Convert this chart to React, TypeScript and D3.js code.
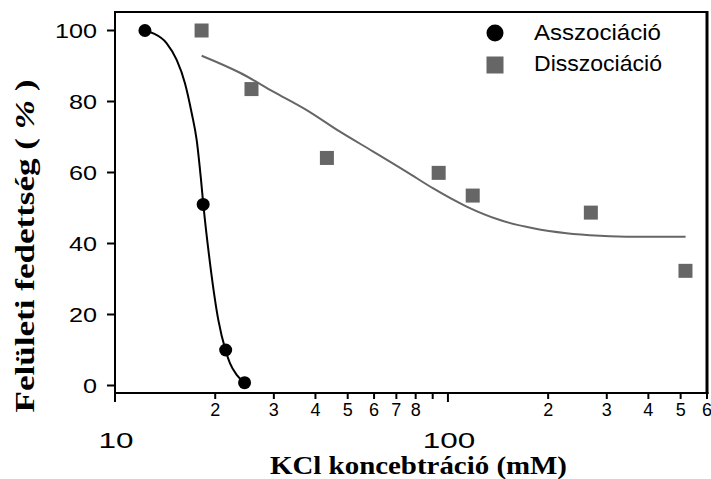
import React from "react";
import * as d3 from "d3";

// Data
const assocX = [12.3, 18.4, 21.5, 24.5];
const assocY = [100, 51, 10, 0.8];

const dissocX = [18.2, 25.7, 43.3, 93.8, 118.7, 268.7, 517];
const dissocY = [100, 83.5, 64.1, 59.9, 53.5, 48.7, 32.3];

// fitted curves
const assocFitX = [12.31, 13.03, 14.3, 15.32, 16.23, 17.0, 17.59, 18.13, 18.42, 19.29, 20.43, 21.5, 22.14, 23.2, 24.45];
const assocFitY = [100, 99.2, 96.4, 91.7, 85.1, 76.7, 69.2, 57.9, 51.0, 34.5, 18.5, 9.8, 6.3, 3.0, 0.9];

const dissocFitX = [18.21, 23.73, 29.88, 37.65, 47.39, 59.67, 75.16, 90.35, 113.8, 143.3, 180.4, 227.1, 286.1, 360.2, 517.4];
const dissocFitY = [92.9, 88.1, 82.8, 77.6, 71.5, 65.9, 60.2, 55.5, 50.4, 46.6, 44.3, 42.9, 42.2, 41.9, 41.9];

const yTicks = [0, 20, 40, 60, 80, 100];
const xMajorTicks = [10, 100];
const xMinorTicks = [20, 30, 40, 50, 60, 70, 80, 90, 200, 300, 400, 500, 600];
const xMinorLabels = [
  { v: 20, t: "2" }, { v: 30, t: "3" }, { v: 40, t: "4" }, { v: 50, t: "5" },
  { v: 60, t: "6" }, { v: 70, t: "7" }, { v: 80, t: "8" },
  { v: 200, t: "2" }, { v: 300, t: "3" }, { v: 400, t: "4" }, { v: 500, t: "5" }, { v: 600, t: "6" },
];

const legendNames = ["Asszociáció", "Disszociáció"];

const W = 711;
const H = 479;
const L = 115, R = 707, T = 12, B = 393;
const GRAY = "#666666";
const SANS = "'Liberation Sans', Arial, sans-serif";
const SERIF = "'Liberation Serif', 'Times New Roman', serif";

export default function App() {
  const x = d3.scaleLog().domain([10, 600]).range([L, R]);
  const y = d3.scaleLinear().domain([0, 100]).range([385.5, 30.5]);

  const line = d3
    .line<[number, number]>()
    .x((d) => x(d[0]))
    .y((d) => y(d[1]))
    .curve(d3.curveMonotoneX);

  const assocFit = line(assocFitX.map((v, i) => [v, assocFitY[i]]) as [number, number][]) || "";
  const dissocFit = line(dissocFitX.map((v, i) => [v, dissocFitY[i]]) as [number, number][]) || "";

  return (
    <svg
      width={W}
      height={H}
      style={{ position: "absolute", left: 0, top: 0, background: "#fff" }}
      xmlns="http://www.w3.org/2000/svg"
    >
      <rect x={0} y={0} width={W} height={H} fill="#fff" />

      {/* curves */}
      <path d={dissocFit} fill="none" stroke={GRAY} strokeWidth={2} />
      <path d={assocFit} fill="none" stroke="#000" strokeWidth={2} />

      {/* points */}
      {dissocX.map((v, i) => (
        <rect key={"s" + i} x={x(v) - 7} y={y(dissocY[i]) - 7} width={14} height={14} fill={GRAY} />
      ))}
      {assocX.map((v, i) => (
        <circle key={"c" + i} cx={x(v)} cy={y(assocY[i])} r={6.5} fill="#000" />
      ))}

      {/* frame */}
      <line x1={L} x2={R} y1={T} y2={T} stroke="#000" strokeWidth={2} />
      <line x1={R} x2={R} y1={T - 1} y2={B + 1} stroke="#000" strokeWidth={3} />
      <line x1={L} x2={R + 1.5} y1={B} y2={B} stroke="#000" strokeWidth={2} />
      <line x1={L} x2={L} y1={T - 1} y2={B + 9} stroke="#000" strokeWidth={2} />

      {/* y ticks */}
      {yTicks.map((t) => (
        <g key={"yt" + t}>
          <line x1={L - 8} x2={L} y1={y(t)} y2={y(t)} stroke="#000" strokeWidth={2} />
          <text
            x={97}
            y={y(t) + 7}
            textAnchor="end"
            fontFamily={SANS}
            fontSize={20}
            textLength={String(t).length * 14}
            lengthAdjust="spacingAndGlyphs"
          >
            {t}
          </text>
        </g>
      ))}

      {/* x ticks */}
      {xMajorTicks.map((t) => (
        <g key={"xM" + t}>
          <line x1={x(t)} x2={x(t)} y1={B} y2={B + 9} stroke="#000" strokeWidth={2} />
          <text
            x={x(t) + 1}
            y={448}
            textAnchor="middle"
            fontFamily={SANS}
            fontSize={22}
            textLength={String(t).length * 17.5}
            lengthAdjust="spacingAndGlyphs"
          >
            {t}
          </text>
        </g>
      ))}
      {xMinorTicks.map((t) => (
        <line key={"xm" + t} x1={x(t)} x2={x(t)} y1={B} y2={B + 6} stroke="#000" strokeWidth={2} />
      ))}
      {xMinorLabels.map((d, i) => (
        <text
          key={"xl" + i}
          x={x(d.v)}
          y={416}
          textAnchor="middle"
          fontFamily={SANS}
          fontSize={18}
        >
          {d.t}
        </text>
      ))}

      {/* legend */}
      <circle cx={495} cy={33} r={8.5} fill="#000" />
      <rect x={486.5} y={56.5} width={17} height={17} fill={GRAY} />
      <text x={534} y={39.5} fontFamily={SANS} fontSize={22} textLength={127} lengthAdjust="spacingAndGlyphs">
        {legendNames[0]}
      </text>
      <text x={534} y={71} fontFamily={SANS} fontSize={22} textLength={128} lengthAdjust="spacingAndGlyphs">
        {legendNames[1]}
      </text>

      {/* axis titles */}
      <text
        x={418.5}
        y={474}
        textAnchor="middle"
        fontFamily={SERIF}
        fontWeight="bold"
        fontSize={26}
        textLength={297}
        lengthAdjust="spacingAndGlyphs"
      >
        KCl koncebtráció (mM)
      </text>
      <text
        transform={`translate(34, ${246}) rotate(-90)`}
        x={0}
        y={0}
        textAnchor="middle"
        fontFamily={SERIF}
        fontWeight="bold"
        fontSize={27}
        textLength={333}
        lengthAdjust="spacingAndGlyphs"
      >
        Felületi fedettség ( <tspan fontStyle="italic">%</tspan> )
      </text>
    </svg>
  );
}
